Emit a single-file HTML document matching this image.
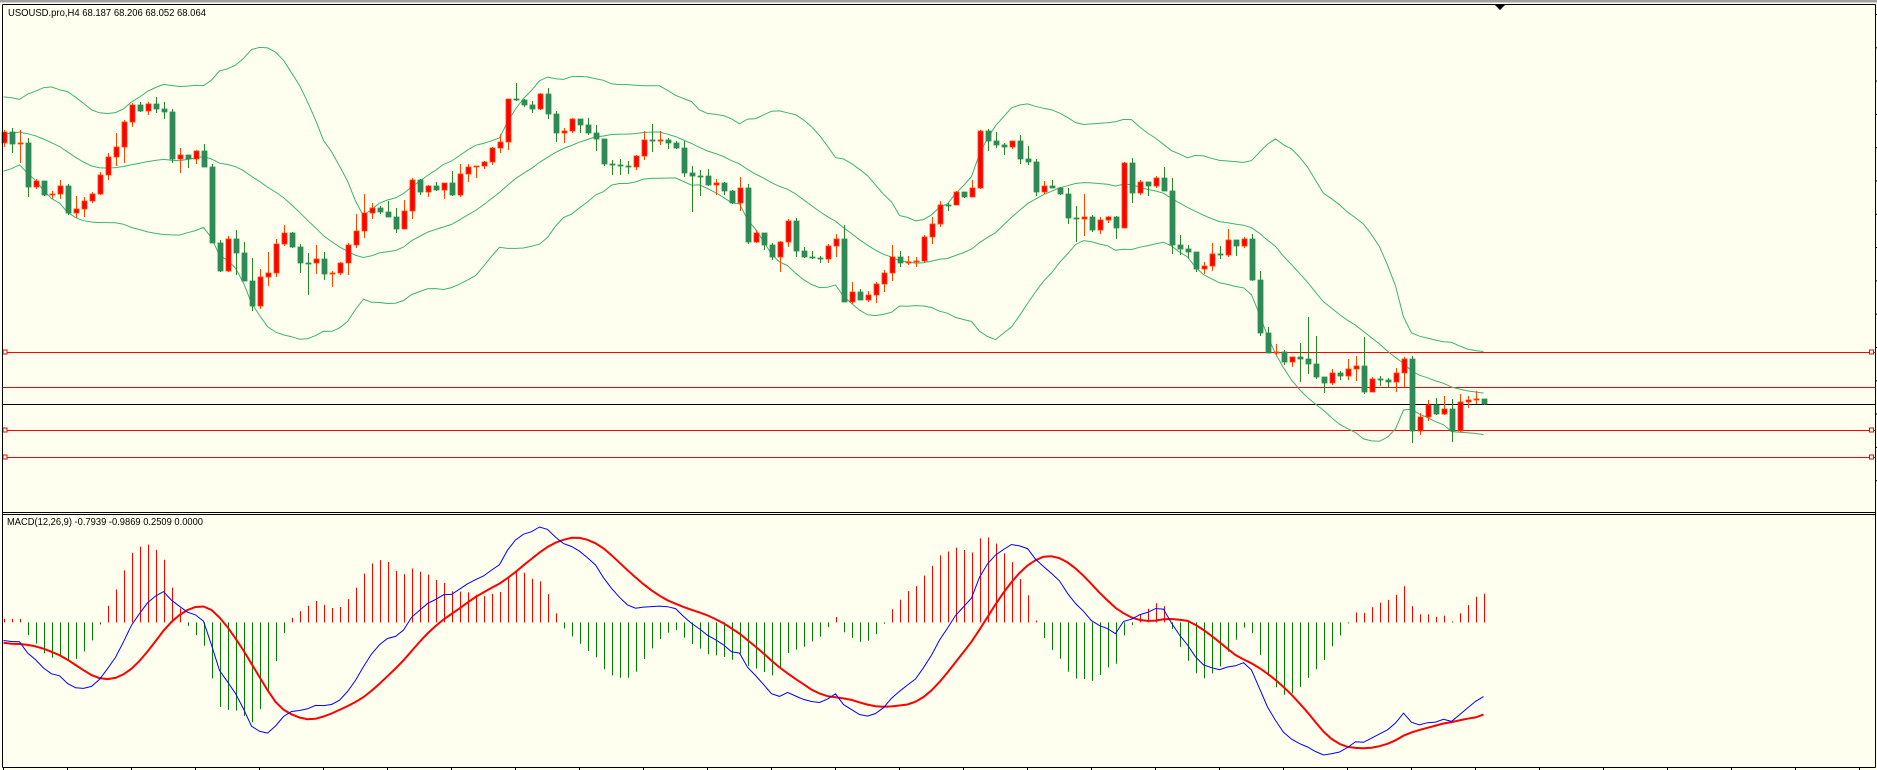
<!DOCTYPE html>
<html><head><meta charset="utf-8">
<style>
html,body{margin:0;padding:0;background:#fffff0;}
svg{display:block;}
text{font-family:"Liberation Sans",sans-serif;font-size:10px;fill:#000;}
</style></head>
<body>
<svg id="chart" width="1877" height="770" viewBox="0 0 1877 770" xmlns="http://www.w3.org/2000/svg">
<rect x="0" y="0" width="1877" height="770" fill="#fffff0"/>
<rect x="0" y="0" width="1877" height="2.5" fill="#a0a0a0"/>
<g id="mainPanel"></g>
<g id="macdPanel"></g>
<line x1="2.5" y1="4.5" x2="1875.5" y2="4.5" stroke="#000"/>
<line x1="2.5" y1="4.5" x2="2.5" y2="767.5" stroke="#000"/>
<line x1="1875.5" y1="4.5" x2="1875.5" y2="767.5" stroke="#000"/>
<line x1="2.5" y1="512.5" x2="1875.5" y2="512.5" stroke="#000"/>
<line x1="2.5" y1="514.5" x2="1875.5" y2="514.5" stroke="#000"/>
<line x1="2.5" y1="767.5" x2="1875.5" y2="767.5" stroke="#000"/>
<polygon points="1495,5 1505,5 1500,10" fill="#000"/>
<text x="8" y="16" textLength="198" lengthAdjust="spacingAndGlyphs">USOUSD.pro,H4  68.187 68.206 68.052 68.064</text>
<text x="7" y="525" textLength="196" lengthAdjust="spacingAndGlyphs">MACD(12,26,9) -0.7939 -0.9869 0.2509 0.0000</text>
</svg>
<script>
const priorCloses = [74.24,74.34,74.30,74.14,74.04,73.94,73.84,73.64,73.44,73.24,73.14,72.94,72.84,73.04,73.34,73.54,73.74,73.94,74.04,74.14,73.98,73.84,73.34,73.14,73.04,73.24,73.34,73.34,73.38,73.50];
const firstOpen = 73.28;
const closes = [
73.50,73.26,73.28,72.40,72.52,72.24,72.26,72.42,71.88,71.96,
72.12,72.26,72.64,73.00,73.20,73.70,74.04,73.92,74.06,73.96,
73.90,72.96,73.04,72.96,73.12,72.80,71.28,70.72,71.36,71.08,
70.52,70.02,70.60,70.68,71.26,71.48,71.20,70.88,70.88,70.96,
70.66,70.68,70.88,71.24,71.52,71.88,71.98,71.90,71.80,71.56,
71.92,72.54,72.30,72.42,72.34,72.48,72.24,72.66,72.80,72.82,
72.90,73.18,73.30,74.16,74.14,74.04,73.96,74.26,73.86,73.48,
73.52,73.76,73.64,73.48,73.36,72.86,72.84,72.82,72.80,73.02,
73.34,73.32,73.34,73.28,73.18,72.68,72.62,72.62,72.44,72.48,
72.32,72.08,72.38,71.30,71.48,71.24,71.00,71.30,71.72,71.12,
71.00,70.98,70.96,71.22,71.36,70.10,70.30,70.14,70.24,70.46,
70.68,71.00,70.88,70.90,70.92,71.40,71.66,72.04,72.04,72.30,
72.20,72.38,73.52,73.32,73.24,73.20,73.32,72.96,72.90,72.30,
72.42,72.38,72.26,71.78,71.76,71.80,71.54,71.74,71.80,71.58,
72.88,72.28,72.50,72.42,72.58,72.32,71.24,71.16,71.10,70.76,
70.82,71.06,71.04,71.34,71.22,71.36,70.54,69.48,69.08,69.10,
68.90,69.00,68.96,68.86,68.60,68.48,68.68,68.62,68.76,68.82,
68.30,68.56,68.54,68.50,68.68,68.96,67.52,67.80,68.04,67.86,
67.96,67.52,68.10,68.14,68.16,68.06];
const highs = [
73.54,73.58,73.54,73.38,72.56,72.50,72.32,72.54,72.46,72.22,
72.20,72.30,72.70,73.08,73.48,73.74,74.08,74.10,74.10,74.20,
74.10,73.96,73.18,73.04,73.14,73.26,72.86,71.34,71.42,71.54,
71.30,70.98,70.76,71.10,71.36,71.64,71.50,71.26,71.08,71.24,
71.10,70.72,70.90,71.28,71.86,72.26,72.08,72.02,72.12,71.98,
72.14,72.58,72.56,72.44,72.50,72.48,72.72,72.86,72.86,72.82,
72.92,73.20,73.46,74.16,74.48,74.16,74.12,74.28,74.38,73.92,
73.58,73.78,73.76,73.78,73.64,73.36,72.94,72.96,72.92,73.04,
73.52,73.66,73.52,73.38,73.32,73.32,72.82,72.74,72.76,72.56,
72.50,72.34,72.60,72.46,71.54,71.48,71.28,71.32,71.76,71.78,
71.20,71.12,71.02,71.26,71.46,71.64,70.50,70.36,70.32,70.50,
70.74,71.24,71.12,71.02,71.00,71.44,71.80,72.12,72.08,72.32,
72.30,72.54,73.54,73.56,73.50,73.28,73.32,73.44,73.22,72.96,
72.52,72.54,72.40,72.38,72.02,72.26,71.84,71.80,71.82,71.82,
72.90,72.98,72.54,72.50,72.62,72.80,72.58,71.44,71.24,71.06,
70.90,71.28,71.22,71.56,71.32,71.40,71.46,70.72,69.60,69.26,
69.14,69.00,69.28,69.80,69.42,68.60,68.76,68.72,68.96,69.02,
69.40,68.60,68.62,68.58,68.78,69.00,69.02,67.88,68.14,68.18,
68.22,68.16,68.26,68.22,68.32,68.16];
const lows = [
73.20,73.08,72.88,72.20,72.36,72.22,72.16,72.16,71.84,71.78,
71.80,72.08,72.24,72.54,72.82,72.88,73.60,73.90,73.84,73.88,
73.76,72.88,72.68,72.78,72.86,72.80,71.28,70.70,70.70,70.64,
70.52,69.92,69.96,70.42,70.60,71.22,71.18,70.68,70.24,70.66,
70.54,70.40,70.64,70.64,71.18,71.38,71.76,71.86,71.80,71.48,
71.56,71.76,72.24,72.20,72.32,72.16,72.22,72.20,72.50,72.58,
72.76,72.84,73.08,73.14,74.12,74.00,73.88,73.94,73.76,73.30,
73.28,73.48,73.48,73.44,73.12,72.82,72.64,72.64,72.66,72.74,
72.94,73.10,73.24,73.16,73.16,72.60,71.90,72.22,72.42,72.24,
72.24,72.06,71.92,71.26,71.28,71.14,70.94,70.70,71.20,71.00,
70.98,70.96,70.88,70.88,71.00,70.10,70.06,70.14,70.10,70.08,
70.30,70.52,70.80,70.84,70.80,70.90,71.26,71.60,71.92,72.04,
72.18,72.20,72.36,73.12,73.18,73.04,73.16,72.86,72.84,72.22,
72.26,72.38,72.24,71.66,71.30,71.42,71.50,71.46,71.68,71.36,
71.58,72.08,72.24,72.22,72.38,72.32,71.06,71.04,70.98,70.70,
70.66,70.72,70.96,71.00,71.02,71.18,70.52,69.42,69.08,69.04,
68.84,68.80,68.50,68.66,68.56,68.28,68.44,68.54,68.54,68.52,
68.26,68.30,68.42,68.40,68.30,68.40,67.28,67.44,67.72,67.84,
67.84,67.30,67.50,67.98,68.06,68.04];
const levelPrices = [69.10, 68.40, 67.54, 67.00];
const levelMarkers = [true, false, true, true];
const bidPrice = 68.06;
const timeTickEvery = 8;

const NS = "http://www.w3.org/2000/svg";
const mainG = document.getElementById("mainPanel");
const macdG = document.getElementById("macdPanel");
function mk(parent, tag, attrs){
  const el = document.createElementNS(NS, tag);
  for (const k in attrs) el.setAttribute(k, attrs[k]);
  parent.appendChild(el);
  return el;
}
function xScale(i){ return 3.5 + 8 * i; }
function yPrice(p){ return (76.14 - p) / 0.02; }
const N = closes.length;

levelPrices.forEach(function(p, k){
  const y = Math.round(yPrice(p)) + 0.5;
  const ln = mk(mainG, "line", {x1: 3, y1: y, x2: 1875, y2: y, stroke: "#ff0000", "stroke-width": 1});
  
  
  if (levelMarkers[k]) {
    const m1 = mk(mainG, "rect", {x: 3, y: y - 2.5, width: 4, height: 4, fill: "#fffff0", stroke: "#ff0000"});
    
    
    const m2 = mk(mainG, "rect", {x: 1869.5, y: y - 2.5, width: 4, height: 4, fill: "#fffff0", stroke: "#ff0000"});
    
    
  }
});
const by = Math.round(yPrice(bidPrice)) + 0.5;
const bid = mk(mainG, "line", {x1: 3, y1: by, x2: 1875, y2: by, stroke: "#000", "stroke-width": 1});



const all = priorCloses.concat(closes);
const off = priorCloses.length;
const up = [], mid = [], lo = [];
for (let i = 0; i < N; i++) {
  const j = i + off;
  const w = all.slice(j - 19, j + 1);
  const m = w.reduce((a, b) => a + b, 0) / w.length;
  const sd = Math.sqrt(w.reduce((a, b) => a + (b - m) * (b - m), 0) / w.length);
  mid.push(m); up.push(m + 2 * sd); lo.push(m - 2 * sd);
}
[[up, 'bollinger-upper-band'], [mid, 'bollinger-middle-band'], [lo, 'bollinger-lower-band']].forEach(function(pair){
  const pts = pair[0].map((v, i) => xScale(i).toFixed(1) + "," + yPrice(v).toFixed(1)).join(" ");
  const pl = mk(mainG, "polyline", {points: pts, fill: "none", stroke: "#3cb371", "stroke-width": 1});
  
  
});

for (let i = 0; i < N; i++) {
  const o = i === 0 ? firstOpen : closes[i - 1];
  const c = closes[i];
  const h = Math.max(highs[i], o, c), l = Math.min(lows[i], o, c);
  const bull = c > o;
  const x = Math.round(xScale(i)) + 0.5;
  const wick = mk(mainG, "line", {x1: x, y1: yPrice(h), x2: x, y2: yPrice(l), stroke: bull ? "#ff4500" : "#228b22", "stroke-width": 1});
  
  
  const yt = yPrice(Math.max(o, c)), yb = yPrice(Math.min(o, c));
  const body = mk(mainG, "rect", {x: x - 2.5, y: yt, width: 5, height: Math.max(1, yb - yt), fill: bull ? "#ff0000" : "#2e8b57", stroke: bull ? "#ff4500" : "#2e8b57", "stroke-width": 0.8});
  
  
}

for (let k = 0; k < 15; k++) {
  const y = 14.5 + 33.3 * k;
  if (y > 511) break;
  const t = mk(mainG, "line", {x1: 1875, y1: y, x2: 1877, y2: y, stroke: "#000"});
  
  
}
for (let i = 0; i < 240; i += timeTickEvery) {
  const x = Math.round(xScale(i)) - 0.5;
  const t = mk(macdG, "line", {x1: x, y1: 767, x2: x, y2: 770, stroke: "#000"});
  
  
}

function ema(arr, n){ const k = 2 / (n + 1); const out = [arr[0]]; for (let i = 1; i < arr.length; i++) out.push(arr[i] * k + out[i - 1] * (1 - k)); return out; }
const e12 = ema(all, 12), e26 = ema(all, 26);
const macdAll = e12.map((v, i) => v - e26[i]);
const sigAll = macdAll.map((v, i) => { const w = macdAll.slice(Math.max(0, i - 8), i + 1); return w.reduce((a, b) => a + b, 0) / w.length; });
const macd = macdAll.slice(off), signal = sigAll.slice(off);
const hist = macd.map((v, i) => 1.6 * (v - signal[i]));
let mn = Infinity, mx = -Infinity;
macd.concat(signal).concat(hist).forEach(v => { mn = Math.min(mn, v); mx = Math.max(mx, v); });
function yMacd(v){ return 527 + (mx - v) / (mx - mn) * (755 - 527); }
const y0 = yMacd(0);
for (let i = 0; i < N; i++) {
  const x = Math.round(xScale(i)) + 0.5;
  const b = mk(macdG, "line", {x1: x, y1: y0, x2: x, y2: yMacd(hist[i]), stroke: hist[i] >= 0 ? "#ff0000" : "#008000", "stroke-width": 1});
  
  
}
const sigLine = mk(macdG, "polyline", {points: signal.map((v, i) => xScale(i).toFixed(1) + "," + yMacd(v).toFixed(1)).join(" "), fill: "none", stroke: "#ff0000", "stroke-width": 2});


const macdLine = mk(macdG, "polyline", {points: macd.map((v, i) => xScale(i).toFixed(1) + "," + yMacd(v).toFixed(1)).join(" "), fill: "none", stroke: "#0000ff", "stroke-width": 1});


</script>
</body></html>
